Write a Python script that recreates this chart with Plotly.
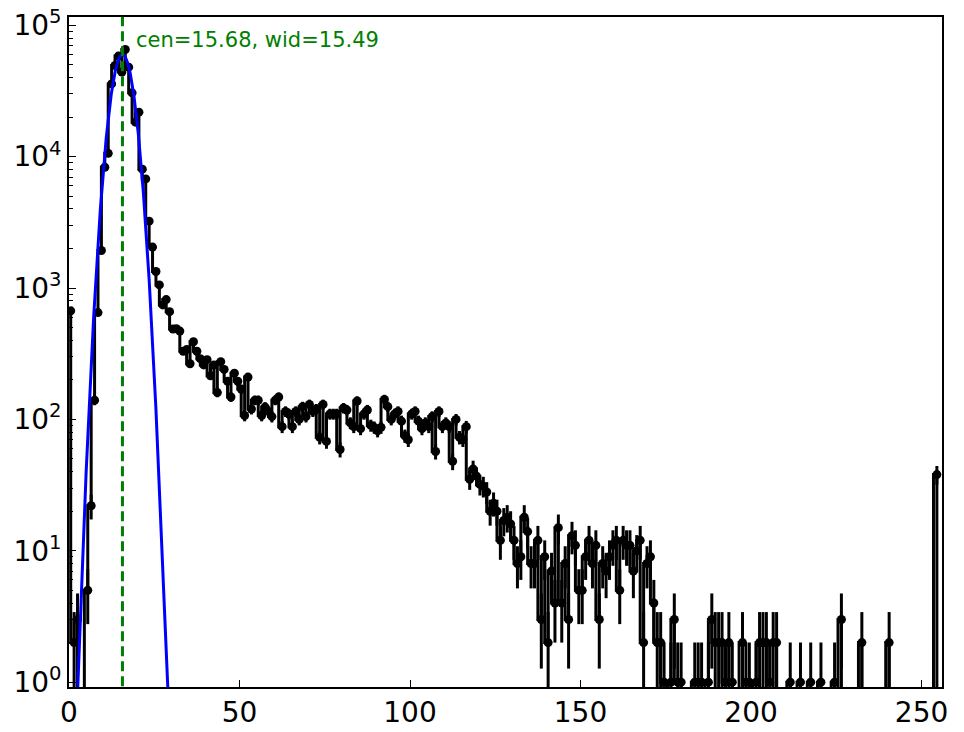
import numpy as np
import plotly.graph_objects as go

# histogram counts, one per ADC bin (bins 0..255)
counts_peak = [670, 2, 3, 0, 0, 5, 22, 140, 650, 1930,
               8300, 10600, 35800, 49400, 58300, 44000, 65400, 48000, 30600, 18300,
               21800, 8030, 6770, 3230, 2050, 1335, 1056, 744, 816, 661]
counts_shoulder = [488, 490, 470, 330, 340, 265, 390, 330, 290, 260,
                   285, 215, 260, 160, 275, 240, 195, 148, 225, 195,
                   170, 107, 210, 120, 140, 140, 107, 124, 115, 105,
                   140, 148, 88, 115, 110, 88, 115, 100, 125, 105,
                   130, 115, 120, 73, 130, 68, 110, 110, 110, 59,
                   122, 118, 94, 88, 138, 85, 110, 118, 90, 87,
                   82, 87, 142, 125, 100, 110, 115, 97, 75, 70,
                   110, 115, 97, 85, 94, 88, 105, 57, 115, 88,
                   94, 88, 48, 100, 73, 70, 88]
counts_tail = [35, 42, 37, 32, 31, 28, 20, 23, 20, 12,
               17, 18, 16, 12, 8, 9, 18, 14, 8, 8,
               12, 3, 9, 2, 7, 4, 15, 4, 8, 3,
               13, 11, 5, 5, 9, 12, 8, 11, 3, 8,
               7, 9, 11, 12, 5, 12, 11, 11, 7, 10,
               12, 2, 8, 9, 4, 2, 2, 1, 0, 1,
               3, 1, 1, 0, 0, 0, 1, 1, 1, 0,
               1, 3, 2, 2, 2, 1, 2, 1, 0, 0,
               2, 1, 1, 0, 1, 2, 2, 2, 1, 2,
               2, 0, 0, 0, 1, 0, 0, 1, 0, 0,
               1, 0, 0, 1, 0, 0, 0, 1, 0, 3,
               0, 0, 0, 0, 0, 2, 0, 0, 0, 0,
               0, 0, 0, 2, 0, 0, 0, 0, 0, 0,
               0, 0, 0, 0, 0, 0, 0, 38, 0]

# gaussian fit result
fit_cen = 15.68
fit_wid = 15.49
fit_amp = 60000.0

counts = np.array(counts_peak + counts_shoulder + counts_tail, dtype=float)
centers = np.arange(len(counts)) + 0.5

# empty bins get clipped below the axis like matplotlib does
line_y = np.where(counts > 0, counts, 1e-3)
nz = counts > 0

xf = np.linspace(0, 40, 801)
yf = fit_amp * np.exp(-(xf - fit_cen) ** 2 / fit_wid)
yf = np.where(yf > 1e-3, yf, 1e-3)

fig = go.Figure()

fig.add_trace(go.Scatter(x=centers, y=line_y, mode="lines",
                         line=dict(color="black", width=3, shape="vh"),
                         hoverinfo="skip"))
fig.add_trace(go.Scatter(x=centers[nz], y=counts[nz], mode="markers",
                         marker=dict(color="black", size=9),
                         error_y=dict(type="data", array=np.sqrt(counts[nz]),
                                      color="black", thickness=3, width=0)))
fig.add_trace(go.Scatter(x=xf, y=yf, mode="lines",
                         line=dict(color="#0000ff", width=3)))
fig.add_trace(go.Scatter(x=[fit_cen, fit_cen], y=[1e-3, 1e7], mode="lines",
                         line=dict(color="#008000", width=3, dash="10px,5px")))

fig.add_annotation(x=0.075, xref="paper", y=4.89, yref="y",
                   text="cen=%.2f, wid=%.2f" % (fit_cen, fit_wid),
                   showarrow=False, xanchor="left", yanchor="middle",
                   font=dict(family="DejaVu Sans", color="#008000", size=21))

decades = [0, 1, 2, 3, 4, 5]
minor_vals = [m * 10 ** d for d in decades for m in range(2, 10)]
tick_font = dict(family="DejaVu Sans", color="black", size=28)

# page body adds 8px offset, so the figure is a bit smaller than the window
fig.update_layout(
    width=956, height=724,
    margin=dict(l=60.5, r=22, t=8.7, b=45.3, autoexpand=False),
    plot_bgcolor="white", paper_bgcolor="white",
    showlegend=False,
    font=dict(family="DejaVu Sans", color="black", size=28),
)
fig.update_xaxes(range=[0, 256], tickvals=[0, 50, 100, 150, 200, 250],
                 tickfont=tick_font, automargin=False, ticklabeloverflow="allow",
                 ticks="inside", ticklen=7, tickwidth=1.3, tickcolor="black",
                 showgrid=False, zeroline=False,
                 showline=True, mirror=True, linecolor="black", linewidth=1.7)
fig.update_yaxes(type="log", range=[-0.037, 5.063],
                 tickvals=[10 ** d for d in decades],
                 ticktext=["10<sup>%d</sup>" % d for d in decades],
                 tickfont=tick_font, automargin=False, ticklabeloverflow="allow",
                 ticks="inside", ticklen=7, tickwidth=1.3, tickcolor="black",
                 minor=dict(tickvals=minor_vals, ticks="inside", ticklen=4,
                            tickwidth=1, tickcolor="black", showgrid=False),
                 showgrid=False, zeroline=False,
                 showline=True, mirror=True, linecolor="black", linewidth=1.7)

fig.write_html("out.html")
